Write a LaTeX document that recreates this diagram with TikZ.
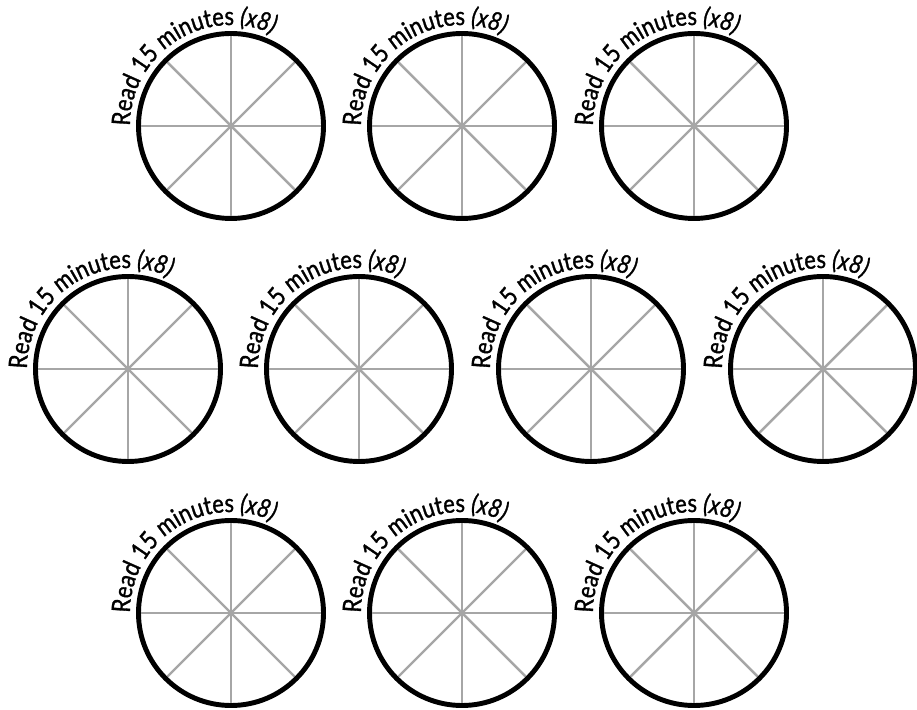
\documentclass[tikz,border=0pt]{standalone}
\usepackage{fontspec}
\usepackage{tikz}
\usetikzlibrary{decorations.text}
\newfontfamily\rotulofont[FakeStretch=0.86, FakeBold=1.2]{Lato}
\definecolor{gris}{HTML}{A6A6A6}

\begin{document}
\begin{tikzpicture}[
  borde/.style={line width=2.8pt},
  radio/.style={gris, line width=1.4pt},
  rotulo/.style={decorate, decoration={text along path, text align=left,
    text={|\fontsize{14.5pt}{14.5pt}\rotulofont|Read 15 minutes |\fontsize{14.5pt}{14.5pt}\rotulofont\itshape|(x8)}}}]
\useasboundingbox (0,0) rectangle (18.34,14.18);
\foreach \x/\y [count=\i] in {4.62/11.66, 9.24/11.66, 13.88/11.66,
  2.56/6.80, 7.18/6.80, 11.82/6.80, 16.46/6.80,
  4.62/1.92, 9.24/1.92, 13.88/1.92} {
  \coordinate (c\i) at (\x,\y);
  \foreach \a in {0,45,...,315} \draw[radio] (c\i) -- ++(\a:1.85);
  \draw[borde] (c\i) circle[radius=1.85];
  \path[rotulo] (c\i) ++(180:2.02) arc[start angle=180, end angle=20, radius=2.02];
}
\end{tikzpicture}
\end{document}
